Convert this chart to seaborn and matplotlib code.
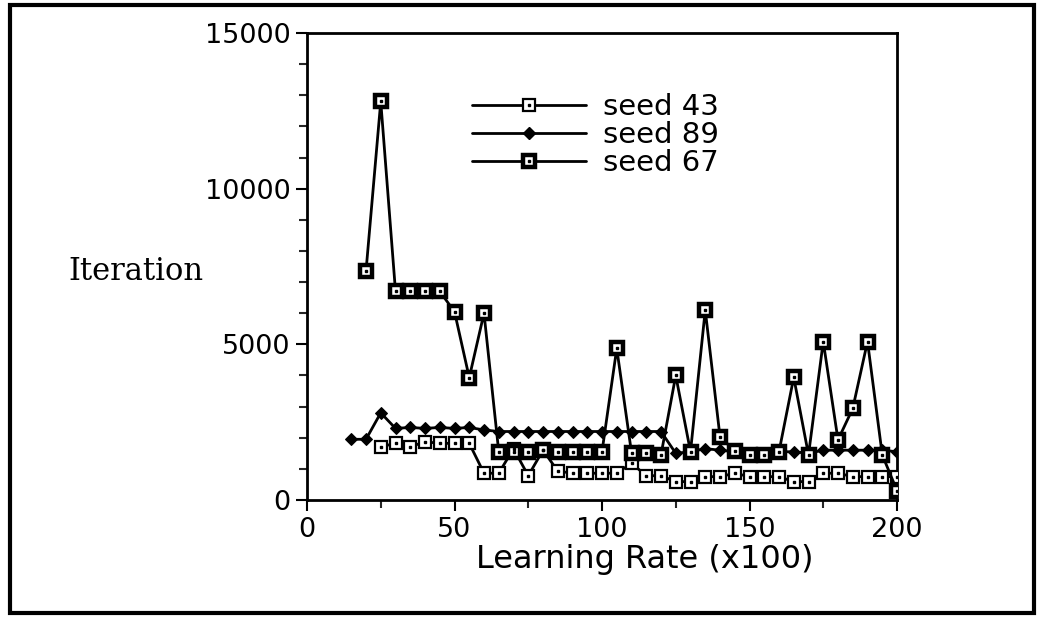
import matplotlib
matplotlib.use("Agg")
import matplotlib.pyplot as plt
import seaborn as sns
import pandas as pd
import numpy as np
from matplotlib.lines import Line2D
from matplotlib.legend_handler import HandlerTuple
from matplotlib.patches import Rectangle

# ---- data ----
x43 = list(range(25, 205, 5))
seed43 = [1710, 1820, 1710, 1870, 1820, 1820, 1820, 860, 860, 1650,
          780, 1600, 930, 860, 860, 860, 860, 1180, 780, 780,
          590, 590, 750, 750, 860, 750, 750, 750, 590, 590,
          860, 860, 750, 750, 750, 750]

x89 = list(range(15, 205, 5))
seed89 = [1950, 1950, 2800, 2300, 2330, 2300, 2330, 2300, 2330, 2250,
          2200, 2200, 2200, 2200, 2200, 2200, 2200, 2200, 2200, 2200,
          2200, 2200, 1500, 1550, 1650, 1600, 1550, 1500, 1500, 1550,
          1550, 1500, 1600, 1600, 1600, 1600, 1600, 1550]

x67 = list(range(20, 205, 5))
seed67 = [7350, 12800, 6700, 6700, 6700, 6700, 6050, 3930, 6000, 1550,
          1550, 1550, 1600, 1550, 1550, 1550, 1550, 4870, 1520, 1500,
          1450, 4000, 1550, 6100, 2030, 1580, 1450, 1450, 1550, 3940,
          1450, 5090, 1930, 2940, 5090, 1450, 300]

labels = ["seed 43", "seed 89", "seed 67"]
xticks_major = [0, 50, 100, 150, 200]
yticks_major = [0, 5000, 10000, 15000]

df43 = pd.DataFrame({"x": x43, "y": seed43})
df89 = pd.DataFrame({"x": x89, "y": seed89})
df67 = pd.DataFrame({"x": x67, "y": seed67})

sns.set_theme(style="ticks")
plt.rcParams['font.family'] = ['DejaVu Sans']
plt.rcParams['text.color'] = 'black'

fig = plt.figure(figsize=(10.43, 6.18), dpi=100)
ax = fig.add_axes([307/1043, 1 - 500/618, 590/1043, 467/618])

lw = 2.0
sns.lineplot(data=df43, x="x", y="y", ax=ax, color="black", lw=lw,
             marker="s", markersize=8, markerfacecolor="white",
             markeredgecolor="black", markeredgewidth=1.6, zorder=3)
sns.lineplot(data=df89, x="x", y="y", ax=ax, color="black", lw=lw,
             marker="D", markersize=6.5, markerfacecolor="black",
             markeredgecolor="black", zorder=4)
sns.lineplot(data=df67, x="x", y="y", ax=ax, color="black", lw=lw,
             marker="s", markersize=8.5, markerfacecolor="white",
             markeredgecolor="black", markeredgewidth=3.2, zorder=5)
# center dots
ax.plot(df43["x"], df43["y"], ls="none", marker="s", ms=2, color="black", zorder=6)
ax.plot(df67["x"], df67["y"], ls="none", marker="s", ms=2, color="black", zorder=6)

ax.set_xlim(0, 200)
ax.set_ylim(0, 15000)
ax.set_xticks(xticks_major)
ax.set_xticks(np.arange(0, 201, 25), minor=True)
ax.set_yticks(yticks_major)
ax.set_yticks(np.arange(0, 15001, 1000), minor=True)
ax.tick_params(axis="both", which="major", direction="out", length=8, width=1.5,
               labelsize=19.5, colors="black", pad=4)
ax.tick_params(axis="both", which="minor", direction="out", length=6, width=1.5)
for s in ax.spines.values():
    s.set_visible(True)
    s.set_linewidth(2)
    s.set_color("black")

ax.set_xlabel("Learning Rate (x100)", fontsize=23, color="black")
ax.xaxis.set_label_coords(0.573, -0.094)
ax.set_ylabel("")
ax.text(-0.405, 0.49, "Iteration", transform=ax.transAxes, fontsize=22,
        family="DejaVu Serif", ha="left", va="center", color="black")

# legend
h43 = (Line2D([], [], color="black", lw=lw, marker="s", ms=8, mfc="white", mec="black", mew=1.6),
       Line2D([], [], ls="none", marker="s", ms=2, color="black"))
h89 = Line2D([], [], color="black", lw=lw, marker="D", ms=6.5, mfc="black", mec="black")
h67 = (Line2D([], [], color="black", lw=lw, marker="s", ms=8.5, mfc="white", mec="black", mew=3.2),
       Line2D([], [], ls="none", marker="s", ms=2, color="black"))
leg = ax.legend([h43, h89, h67], labels, loc="upper left",
                bbox_to_anchor=(0.235, 0.927), frameon=False, fontsize=21,
                handlelength=3.9, handletextpad=0.6, labelspacing=0.0,
                handler_map={tuple: HandlerTuple(ndivide=1)})
for t in leg.get_texts():
    t.set_color("black")

# page frame
fig.patches.append(Rectangle((10/1043, 5/618), 1024/1043, 608/618, transform=fig.transFigure,
                             fill=False, lw=3, ec="black"))

fig.savefig("out.png", dpi=100)
